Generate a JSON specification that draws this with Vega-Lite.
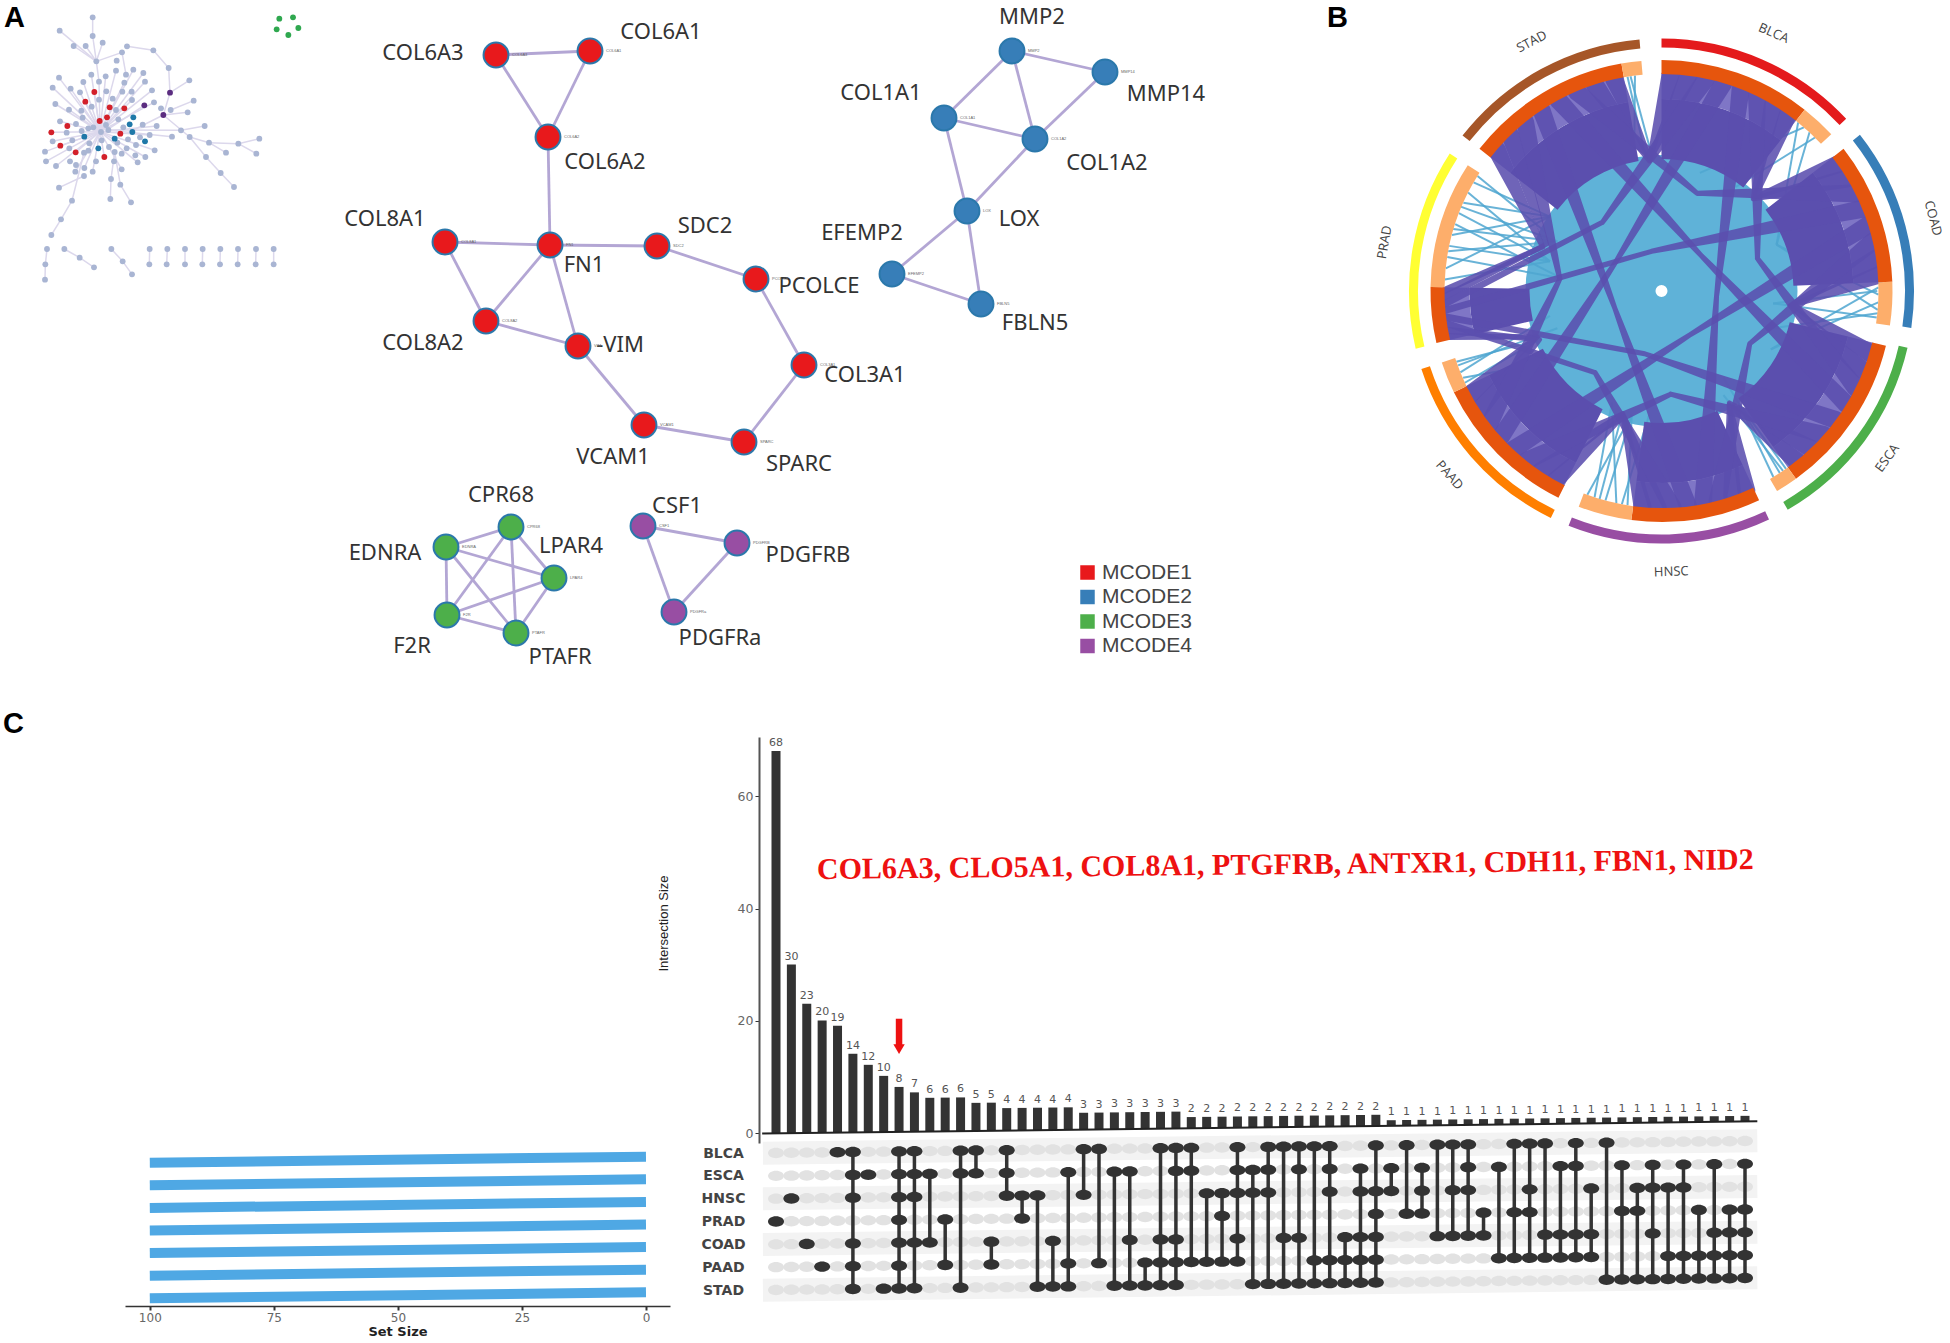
{"$schema":"https://vega.github.io/schema/vega-lite/v6.json","width":1950,"height":1343,"autosize":{"type":"fit","contains":"padding"},"padding":0,"background":"white","config":{"view":{"stroke":null}},
"datasets":{
"genes":[
{"gene":"COL6A3","label":"COL6A3","module":"MCODE1","x":496,"y":55,"lx":423,"ly":53},
{"gene":"COL6A1","label":"COL6A1","module":"MCODE1","x":590,"y":51,"lx":661,"ly":32},
{"gene":"COL6A2","label":"COL6A2","module":"MCODE1","x":548,"y":137,"lx":605,"ly":162},
{"gene":"COL8A1","label":"COL8A1","module":"MCODE1","x":445,"y":242,"lx":385,"ly":219},
{"gene":"FN1","label":"FN1","module":"MCODE1","x":550,"y":245,"lx":584,"ly":265},
{"gene":"SDC2","label":"SDC2","module":"MCODE1","x":657,"y":246,"lx":705,"ly":226},
{"gene":"PCOLCE","label":"PCOLCE","module":"MCODE1","x":756,"y":279,"lx":819,"ly":286},
{"gene":"COL8A2","label":"COL8A2","module":"MCODE1","x":486,"y":321,"lx":423,"ly":343},
{"gene":"VIM","label":"-VIM","module":"MCODE1","x":578,"y":346,"lx":620,"ly":345},
{"gene":"COL3A1","label":"COL3A1","module":"MCODE1","x":804,"y":365,"lx":865,"ly":375},
{"gene":"VCAM1","label":"VCAM1","module":"MCODE1","x":644,"y":425,"lx":613,"ly":457},
{"gene":"SPARC","label":"SPARC","module":"MCODE1","x":744,"y":442,"lx":799,"ly":464},
{"gene":"MMP2","label":"MMP2","module":"MCODE2","x":1012,"y":51,"lx":1032,"ly":17},
{"gene":"MMP14","label":"MMP14","module":"MCODE2","x":1105,"y":72,"lx":1166,"ly":94},
{"gene":"COL1A1","label":"COL1A1","module":"MCODE2","x":944,"y":118,"lx":881,"ly":93},
{"gene":"COL1A2","label":"COL1A2","module":"MCODE2","x":1035,"y":139,"lx":1107,"ly":163},
{"gene":"LOX","label":"LOX","module":"MCODE2","x":967,"y":211,"lx":1019,"ly":219},
{"gene":"EFEMP2","label":"EFEMP2","module":"MCODE2","x":892,"y":274,"lx":862,"ly":233},
{"gene":"FBLN5","label":"FBLN5","module":"MCODE2","x":981,"y":304,"lx":1035,"ly":323},
{"gene":"CPR68","label":"CPR68","module":"MCODE3","x":511,"y":527,"lx":501,"ly":495},
{"gene":"EDNRA","label":"EDNRA","module":"MCODE3","x":446,"y":547,"lx":385,"ly":553},
{"gene":"LPAR4","label":"LPAR4","module":"MCODE3","x":554,"y":578,"lx":571,"ly":546},
{"gene":"F2R","label":"F2R","module":"MCODE3","x":447,"y":615,"lx":412,"ly":646},
{"gene":"PTAFR","label":"PTAFR","module":"MCODE3","x":516,"y":633,"lx":560,"ly":657},
{"gene":"CSF1","label":"CSF1","module":"MCODE4","x":643,"y":526,"lx":677,"ly":506},
{"gene":"PDGFRB","label":"PDGFRB","module":"MCODE4","x":737,"y":543,"lx":808,"ly":555},
{"gene":"PDGFRa","label":"PDGFRa","module":"MCODE4","x":674,"y":612,"lx":720,"ly":638}
],
"links":[
{"a":"COL6A3","b":"COL6A1"},{"a":"COL6A3","b":"COL6A2"},{"a":"COL6A1","b":"COL6A2"},{"a":"COL6A2","b":"FN1"},{"a":"COL8A1","b":"FN1"},{"a":"FN1","b":"SDC2"},{"a":"SDC2","b":"PCOLCE"},{"a":"COL8A1","b":"COL8A2"},{"a":"FN1","b":"COL8A2"},{"a":"FN1","b":"VIM"},{"a":"COL8A2","b":"VIM"},{"a":"VIM","b":"VCAM1"},{"a":"VCAM1","b":"SPARC"},{"a":"SPARC","b":"COL3A1"},{"a":"COL3A1","b":"PCOLCE"},
{"a":"MMP2","b":"MMP14"},{"a":"MMP2","b":"COL1A1"},{"a":"MMP2","b":"COL1A2"},{"a":"MMP14","b":"COL1A2"},{"a":"COL1A1","b":"COL1A2"},{"a":"COL1A1","b":"LOX"},{"a":"COL1A2","b":"LOX"},{"a":"LOX","b":"EFEMP2"},{"a":"LOX","b":"FBLN5"},{"a":"EFEMP2","b":"FBLN5"},
{"a":"EDNRA","b":"CPR68"},{"a":"EDNRA","b":"LPAR4"},{"a":"EDNRA","b":"F2R"},{"a":"EDNRA","b":"PTAFR"},{"a":"CPR68","b":"LPAR4"},{"a":"CPR68","b":"F2R"},{"a":"CPR68","b":"PTAFR"},{"a":"LPAR4","b":"F2R"},{"a":"LPAR4","b":"PTAFR"},{"a":"F2R","b":"PTAFR"},
{"a":"CSF1","b":"PDGFRB"},{"a":"CSF1","b":"PDGFRa"},{"a":"PDGFRB","b":"PDGFRa"}
],
"overviewEdges":[
{"x":278,"y":52,"x2":278,"y2":108},{"x":278,"y":108,"x2":289,"y2":184},{"x":179,"y":92,"x2":289,"y2":184},{"x":221,"y":138,"x2":289,"y2":184},{"x":257,"y":138,"x2":289,"y2":184},{"x":308,"y":128,"x2":289,"y2":184},{"x":366,"y":157,"x2":289,"y2":184},{"x":381,"y":139,"x2":460,"y2":151},{"x":460,"y":151,"x2":506,"y2":204},{"x":506,"y":204,"x2":510,"y2":278},{"x":510,"y":278,"x2":490,"y2":345},{"x":568,"y":241,"x2":510,"y2":278},{"x":366,"y":157,"x2":378,"y2":224},{"x":289,"y":184,"x2":297,"y2":245},{"x":297,"y":245,"x2":300,"y2":390},{"x":490,"y":345,"x2":380,"y2":400},{"x":433,"y":316,"x2":320,"y2":390},{"x":581,"y":302,"x2":512,"y2":330},{"x":563,"y":337,"x2":490,"y2":345},{"x":490,"y":345,"x2":569,"y2":411},{"x":569,"y":411,"x2":627,"y2":428},{"x":627,"y":428,"x2":715,"y2":431},{"x":715,"y":431,"x2":778,"y2":416},{"x":715,"y":431,"x2":769,"y2":461},{"x":627,"y":428,"x2":678,"y2":458},{"x":569,"y":411,"x2":618,"y2":471},{"x":618,"y":471,"x2":662,"y2":519},{"x":662,"y":519,"x2":702,"y2":561},{"x":543,"y":391,"x2":614,"y2":378},{"x":320,"y":390,"x2":543,"y2":391},{"x":320,"y":390,"x2":516,"y2":410},{"x":252,"y":458,"x2":216,"y2":602},{"x":216,"y":602,"x2":183,"y2":658},{"x":183,"y":658,"x2":154,"y2":705},{"x":252,"y":528,"x2":177,"y2":563},{"x":333,"y":537,"x2":331,"y2":597},{"x":344,"y":456,"x2":333,"y2":537},{"x":344,"y":456,"x2":361,"y2":554},{"x":361,"y":554,"x2":393,"y2":607},{"x":141,"y":747,"x2":136,"y2":793},{"x":136,"y":793,"x2":135,"y2":839},{"x":193,"y":747,"x2":239,"y2":773},{"x":239,"y":773,"x2":282,"y2":802},{"x":334,"y":747,"x2":368,"y2":784},{"x":368,"y":784,"x2":396,"y2":823},{"x":449,"y":747,"x2":448,"y2":793},{"x":502,"y":747,"x2":500,"y2":793},{"x":555,"y":747,"x2":555,"y2":793},{"x":608,"y":747,"x2":607,"y2":793},{"x":661,"y":747,"x2":660,"y2":793},{"x":714,"y":747,"x2":713,"y2":793},{"x":768,"y":747,"x2":767,"y2":793},{"x":821,"y":747,"x2":821,"y2":793},
{"x":300,"y":395,"x2":158,"y2":263},{"x":300,"y":395,"x2":177,"y2":233},{"x":300,"y":395,"x2":250,"y2":246},{"x":300,"y":395,"x2":212,"y2":266},{"x":300,"y":395,"x2":240,"y2":277},{"x":300,"y":395,"x2":166,"y2":312},{"x":300,"y":395,"x2":207,"y2":329},{"x":300,"y":395,"x2":180,"y2":364},{"x":300,"y":395,"x2":154,"y2":397},{"x":300,"y":395,"x2":158,"y2":424},{"x":300,"y":395,"x2":135,"y2":455},{"x":300,"y":395,"x2":138,"y2":484},{"x":300,"y":395,"x2":168,"y2":498},{"x":300,"y":395,"x2":226,"y2":515},{"x":300,"y":395,"x2":278,"y2":515},{"x":300,"y":395,"x2":253,"y2":504},{"x":300,"y":395,"x2":365,"y2":508},{"x":300,"y":395,"x2":413,"y2":487},{"x":300,"y":395,"x2":436,"y2":471},{"x":300,"y":395,"x2":464,"y2":451},{"x":300,"y":395,"x2":449,"y2":405},{"x":300,"y":395,"x2":470,"y2":378},{"x":300,"y":395,"x2":456,"y2":271},{"x":300,"y":395,"x2":435,"y2":245},{"x":300,"y":395,"x2":430,"y2":219},{"x":300,"y":395,"x2":400,"y2":209},{"x":300,"y":395,"x2":348,"y2":212},{"x":300,"y":395,"x2":317,"y2":229},{"x":300,"y":395,"x2":274,"y2":224},{"x":300,"y":395,"x2":373,"y2":248},{"x":300,"y":395,"x2":396,"y2":300},{"x":300,"y":395,"x2":462,"y2":307},{"x":300,"y":395,"x2":283,"y2":276},{"x":300,"y":395,"x2":256,"y2":305},{"x":300,"y":395,"x2":181,"y2":437},{"x":300,"y":395,"x2":227,"y2":457},{"x":300,"y":395,"x2":313,"y2":471}
],
"overviewNodes":[
{"x":278,"y":52,"m":"n"},{"x":179,"y":92,"m":"n"},{"x":278,"y":108,"m":"n"},{"x":221,"y":138,"m":"n"},{"x":257,"y":138,"m":"n"},{"x":308,"y":128,"m":"n"},{"x":381,"y":139,"m":"n"},{"x":366,"y":157,"m":"n"},{"x":460,"y":151,"m":"n"},{"x":289,"y":184,"m":"n"},{"x":350,"y":182,"m":"n"},{"x":506,"y":204,"m":"n"},{"x":568,"y":241,"m":"n"},{"x":348,"y":212,"m":"n"},{"x":400,"y":209,"m":"n"},{"x":430,"y":219,"m":"n"},{"x":274,"y":224,"m":"n"},{"x":378,"y":224,"m":"n"},{"x":317,"y":229,"m":"n"},{"x":177,"y":233,"m":"n"},{"x":250,"y":246,"m":"n"},{"x":297,"y":245,"m":"n"},{"x":373,"y":248,"m":"n"},{"x":435,"y":245,"m":"n"},{"x":158,"y":263,"m":"n"},{"x":212,"y":266,"m":"n"},{"x":240,"y":277,"m":"n"},{"x":319,"y":274,"m":"n"},{"x":367,"y":275,"m":"n"},{"x":395,"y":275,"m":"n"},{"x":456,"y":271,"m":"n"},{"x":297,"y":299,"m":"n"},{"x":338,"y":296,"m":"n"},{"x":396,"y":300,"m":"n"},{"x":462,"y":307,"m":"n"},{"x":581,"y":302,"m":"n"},{"x":166,"y":312,"m":"n"},{"x":207,"y":329,"m":"n"},{"x":244,"y":332,"m":"n"},{"x":275,"y":320,"m":"n"},{"x":348,"y":330,"m":"n"},{"x":483,"y":325,"m":"n"},{"x":512,"y":330,"m":"n"},{"x":563,"y":337,"m":"n"},{"x":248,"y":353,"m":"n"},{"x":355,"y":358,"m":"n"},{"x":180,"y":364,"m":"n"},{"x":228,"y":372,"m":"n"},{"x":428,"y":374,"m":"n"},{"x":470,"y":378,"m":"n"},{"x":614,"y":378,"m":"n"},{"x":543,"y":391,"m":"n"},{"x":200,"y":398,"m":"n"},{"x":245,"y":393,"m":"n"},{"x":265,"y":385,"m":"n"},{"x":280,"y":382,"m":"n"},{"x":303,"y":396,"m":"n"},{"x":318,"y":375,"m":"n"},{"x":325,"y":390,"m":"n"},{"x":370,"y":382,"m":"n"},{"x":449,"y":405,"m":"n"},{"x":516,"y":410,"m":"n"},{"x":569,"y":411,"m":"n"},{"x":158,"y":424,"m":"n"},{"x":217,"y":421,"m":"n"},{"x":268,"y":430,"m":"n"},{"x":305,"y":421,"m":"n"},{"x":384,"y":418,"m":"n"},{"x":420,"y":412,"m":"n"},{"x":135,"y":455,"m":"n"},{"x":208,"y":445,"m":"n"},{"x":252,"y":458,"m":"n"},{"x":265,"y":452,"m":"n"},{"x":327,"y":441,"m":"n"},{"x":352,"y":428,"m":"n"},{"x":380,"y":445,"m":"n"},{"x":408,"y":435,"m":"n"},{"x":464,"y":451,"m":"n"},{"x":627,"y":428,"m":"n"},{"x":715,"y":431,"m":"n"},{"x":778,"y":416,"m":"n"},{"x":678,"y":458,"m":"n"},{"x":769,"y":461,"m":"n"},{"x":618,"y":471,"m":"n"},{"x":138,"y":484,"m":"n"},{"x":168,"y":498,"m":"n"},{"x":210,"y":484,"m":"n"},{"x":228,"y":495,"m":"n"},{"x":288,"y":484,"m":"n"},{"x":344,"y":456,"m":"n"},{"x":365,"y":461,"m":"n"},{"x":406,"y":466,"m":"n"},{"x":436,"y":471,"m":"n"},{"x":342,"y":484,"m":"n"},{"x":413,"y":487,"m":"n"},{"x":253,"y":504,"m":"n"},{"x":226,"y":515,"m":"n"},{"x":278,"y":515,"m":"n"},{"x":365,"y":508,"m":"n"},{"x":662,"y":519,"m":"n"},{"x":252,"y":528,"m":"n"},{"x":333,"y":537,"m":"n"},{"x":361,"y":554,"m":"n"},{"x":177,"y":563,"m":"n"},{"x":702,"y":561,"m":"n"},{"x":216,"y":602,"m":"n"},{"x":331,"y":597,"m":"n"},{"x":393,"y":607,"m":"n"},{"x":183,"y":658,"m":"n"},{"x":154,"y":705,"m":"n"},
{"x":141,"y":747,"m":"n"},{"x":136,"y":793,"m":"n"},{"x":135,"y":839,"m":"n"},{"x":193,"y":747,"m":"n"},{"x":239,"y":773,"m":"n"},{"x":282,"y":802,"m":"n"},{"x":334,"y":747,"m":"n"},{"x":368,"y":784,"m":"n"},{"x":396,"y":823,"m":"n"},{"x":449,"y":747,"m":"n"},{"x":448,"y":793,"m":"n"},{"x":502,"y":747,"m":"n"},{"x":500,"y":793,"m":"n"},{"x":555,"y":747,"m":"n"},{"x":555,"y":793,"m":"n"},{"x":608,"y":747,"m":"n"},{"x":607,"y":793,"m":"n"},{"x":661,"y":747,"m":"n"},{"x":660,"y":793,"m":"n"},{"x":714,"y":747,"m":"n"},{"x":713,"y":793,"m":"n"},{"x":768,"y":747,"m":"n"},{"x":767,"y":793,"m":"n"},{"x":821,"y":747,"m":"n"},{"x":821,"y":793,"m":"n"},
{"x":283,"y":276,"m":"r"},{"x":256,"y":305,"m":"r"},{"x":329,"y":322,"m":"r"},{"x":373,"y":325,"m":"r"},{"x":321,"y":352,"m":"r"},{"x":299,"y":363,"m":"r"},{"x":202,"y":378,"m":"r"},{"x":154,"y":397,"m":"r"},{"x":361,"y":401,"m":"r"},{"x":181,"y":437,"m":"r"},{"x":227,"y":457,"m":"r"},{"x":313,"y":471,"m":"r"},
{"x":400,"y":352,"m":"b"},{"x":389,"y":373,"m":"b"},{"x":397,"y":396,"m":"b"},{"x":253,"y":410,"m":"b"},{"x":344,"y":416,"m":"b"},{"x":435,"y":424,"m":"b"},{"x":295,"y":445,"m":"b"},
{"x":510,"y":278,"m":"p"},{"x":433,"y":316,"m":"p"},{"x":490,"y":345,"m":"p"},
{"x":838,"y":56,"m":"g"},{"x":879,"y":52,"m":"g"},{"x":895,"y":84,"m":"g"},{"x":865,"y":105,"m":"g"},{"x":830,"y":88,"m":"g"}
],
"sectors":[
{"name":"BLCA","a0":0,"a1":47,"mid":23.5,"tilt":23.5},{"name":"COAD","a0":51.8,"a1":98.4,"mid":75,"tilt":75},{"name":"ESCA","a0":103,"a1":150,"mid":126.5,"tilt":-53.5},{"name":"HNSC","a0":154.8,"a1":201.6,"mid":178,"tilt":-2},{"name":"PAAD","a0":206,"a1":252,"mid":229,"tilt":49},{"name":"PRAD","a0":256.8,"a1":303,"mid":280,"tilt":-80},{"name":"STAD","a0":308,"a1":355,"mid":332.5,"tilt":-27.5}
],
"inner":[
{"part":"shared","a0":0,"a1":38.3},{"part":"unique","a0":38.3,"a1":47.3},{"part":"shared","a0":52,"a1":87.7},{"part":"unique","a0":87.7,"a1":98.6},{"part":"shared","a0":103.7,"a1":144.4},{"part":"unique","a0":144.4,"a1":150},{"part":"shared","a0":155,"a1":187.5},{"part":"unique","a0":187.5,"a1":201},{"part":"shared","a0":206.5,"a1":244},{"part":"unique","a0":244,"a1":252},{"part":"shared","a0":257,"a1":271},{"part":"unique","a0":271,"a1":303},{"part":"shared","a0":308,"a1":350},{"part":"unique","a0":350,"a1":355}
],
"uniqueLinks":[
{"x":0.551,"y":0.68,"x2":0.464,"y2":0.187},{"x":0.574,"y":0.66,"x2":0.155,"y2":0.476},{"x":0.597,"y":0.64,"x2":0.464,"y2":0.187},{"x":0.619,"y":0.619,"x2":0.3,"y2":0.42},
{"x":0.875,"y":0.015,"x2":0.441,"y2":-0.235},{"x":0.875,"y":-0.015,"x2":0.464,"y2":0.187},{"x":0.874,"y":-0.046,"x2":0.441,"y2":-0.235},{"x":0.872,"y":-0.076,"x2":0.464,"y2":0.187},{"x":0.868,"y":-0.107,"x2":0.45,"y2":-0.05},{"x":0.87,"y":0.0,"x2":0.45,"y2":-0.05},{"x":0.872,"y":-0.09,"x2":0.45,"y2":-0.15},
{"x":0.502,"y":-0.717,"x2":0.31,"y2":-0.45},{"x":0.477,"y":-0.734,"x2":0.25,"y2":-0.35},{"x":0.451,"y":-0.75,"x2":0.31,"y2":-0.45},{"x":0.49,"y":-0.725,"x2":0.25,"y2":-0.42},
{"x":-0.137,"y":-0.864,"x2":-0.12,"y2":-0.5},{"x":-0.182,"y":-0.856,"x2":-0.2,"y2":-0.45},{"x":-0.226,"y":-0.845,"x2":-0.12,"y2":-0.5},{"x":-0.27,"y":-0.832,"x2":-0.2,"y2":-0.45},{"x":-0.299,"y":-0.822,"x2":-0.12,"y2":-0.5},{"x":-0.16,"y":-0.86,"x2":-0.05,"y2":-0.5},{"x":-0.25,"y":-0.84,"x2":-0.16,"y2":-0.5},
{"x":-0.793,"y":-0.37,"x2":-0.5,"y2":-0.2},{"x":-0.811,"y":-0.328,"x2":-0.45,"y2":-0.1},{"x":-0.827,"y":-0.285,"x2":-0.5,"y2":-0.2},{"x":-0.8,"y":-0.35,"x2":-0.42,"y2":-0.28},{"x":-0.82,"y":-0.3,"x2":-0.42,"y2":-0.15},
{"x":-0.874,"y":0.046,"x2":-0.45,"y2":0.12},{"x":-0.87,"y":0.091,"x2":-0.45,"y2":0.3},{"x":-0.864,"y":0.137,"x2":-0.4,"y2":0.05},{"x":-0.856,"y":0.182,"x2":-0.45,"y2":0.12},{"x":-0.845,"y":0.226,"x2":-0.45,"y2":0.3},{"x":-0.832,"y":0.27,"x2":-0.4,"y2":0.05},{"x":-0.817,"y":0.314,"x2":-0.45,"y2":0.12},{"x":-0.799,"y":0.356,"x2":-0.45,"y2":0.3},{"x":-0.78,"y":0.397,"x2":-0.45,"y2":0.12},{"x":-0.758,"y":0.438,"x2":-0.45,"y2":0.3},{"x":-0.742,"y":0.464,"x2":-0.47,"y2":0.24},{"x":-0.86,"y":0.16,"x2":-0.42,"y2":0.2},{"x":-0.84,"y":0.25,"x2":-0.42,"y2":0.2},{"x":-0.81,"y":0.34,"x2":-0.42,"y2":0.2},
{"x":-0.137,"y":0.864,"x2":-0.07,"y2":0.57},{"x":-0.107,"y":0.869,"x2":-0.11,"y2":0.53},{"x":-0.125,"y":0.866,"x2":-0.04,"y2":0.55},{"x":-0.2,"y":0.85,"x2":-0.14,"y2":0.55}
],
"sharedLinks":[
{"k":1,"o":0,"x":0.509,"y":0.711,"w":18},{"k":1,"o":1,"x":0.376,"y":0.377,"w":5},{"k":1,"o":2,"x":0.711,"y":0.511,"w":18},
{"k":2,"o":0,"x":0.449,"y":0.751,"w":18},{"k":2,"o":1,"x":0.37,"y":0.372,"w":5},{"k":2,"o":2,"x":0.748,"y":0.453,"w":18},
{"k":3,"o":0,"x":0.873,"y":0.064,"w":18},{"k":3,"o":1,"x":0.527,"y":-0.057,"w":5},{"k":3,"o":2,"x":0.839,"y":-0.249,"w":18},
{"k":4,"o":0,"x":0.865,"y":0.132,"w":18},{"k":4,"o":1,"x":0.519,"y":-0.058,"w":5},{"k":4,"o":2,"x":0.814,"y":-0.321,"w":18},
{"k":5,"o":0,"x":0.545,"y":-0.685,"w":18},{"k":5,"o":1,"x":0.273,"y":-0.459,"w":5},{"k":5,"o":2,"x":0.342,"y":-0.805,"w":18},
{"k":6,"o":0,"x":0.602,"y":-0.635,"w":18},{"k":6,"o":1,"x":0.274,"y":-0.452,"w":5},{"k":6,"o":2,"x":0.285,"y":-0.827,"w":18},
{"k":7,"o":0,"x":-0.076,"y":-0.872,"w":18},{"k":7,"o":1,"x":-0.156,"y":-0.505,"w":5},{"k":7,"o":2,"x":-0.428,"y":-0.763,"w":18},
{"k":8,"o":0,"x":-0.015,"y":-0.875,"w":18},{"k":8,"o":1,"x":-0.156,"y":-0.495,"w":5},{"k":8,"o":2,"x":-0.488,"y":-0.726,"w":18},
{"k":9,"o":0,"x":-0.77,"y":-0.416,"w":18},{"k":9,"o":1,"x":-0.501,"y":-0.185,"w":5},{"k":9,"o":2,"x":-0.856,"y":-0.183,"w":7},
{"k":10,"o":0,"x":-0.734,"y":-0.477,"w":18},{"k":10,"o":1,"x":-0.492,"y":-0.196,"w":5},{"k":10,"o":2,"x":-0.861,"y":-0.158,"w":7},
{"k":11,"o":0,"x":-0.875,"y":0.002,"w":7},{"k":11,"o":1,"x":-0.479,"y":0.178,"w":5},{"k":11,"o":2,"x":-0.664,"y":0.569,"w":18},
{"k":12,"o":0,"x":-0.875,"y":-0.024,"w":7},{"k":12,"o":1,"x":-0.464,"y":0.189,"w":5},{"k":12,"o":2,"x":-0.609,"y":0.628,"w":18},
{"k":13,"o":0,"x":-0.191,"y":0.854,"w":18},{"k":13,"o":1,"x":-0.048,"y":0.532,"w":5},{"k":13,"o":2,"x":0.037,"y":0.874,"w":18},
{"k":14,"o":0,"x":-0.269,"y":0.833,"w":18},{"k":14,"o":1,"x":-0.049,"y":0.525,"w":5},{"k":14,"o":2,"x":0.108,"y":0.868,"w":18},
{"k":15,"o":0,"x":0.385,"y":0.786,"w":18},{"k":15,"o":1,"x":0.387,"y":0.131,"w":5},{"k":15,"o":2,"x":0.783,"y":-0.39,"w":18},
{"k":16,"o":0,"x":0.852,"y":0.2,"w":18},{"k":16,"o":1,"x":0.356,"y":-0.212,"w":5},{"k":16,"o":2,"x":0.226,"y":-0.845,"w":18},
{"k":17,"o":0,"x":0.655,"y":-0.58,"w":18},{"k":17,"o":1,"x":0.037,"y":-0.416,"w":5},{"k":17,"o":2,"x":-0.545,"y":-0.685,"w":18},
{"k":18,"o":0,"x":0.046,"y":-0.874,"w":18},{"k":18,"o":1,"x":-0.268,"y":-0.329,"w":5},{"k":18,"o":2,"x":-0.865,"y":-0.131,"w":7},
{"k":19,"o":0,"x":-0.693,"y":-0.534,"w":18},{"k":19,"o":1,"x":-0.41,"y":0.049,"w":5},{"k":19,"o":2,"x":-0.55,"y":0.681,"w":18},
{"k":20,"o":0,"x":-0.873,"y":-0.052,"w":7},{"k":20,"o":1,"x":-0.238,"y":0.277,"w":5},{"k":20,"o":2,"x":0.18,"y":0.856,"w":18},
{"k":21,"o":0,"x":-0.343,"y":0.805,"w":18},{"k":21,"o":1,"x":0.144,"y":0.394,"w":5},{"k":21,"o":2,"x":0.782,"y":0.393,"w":18},
{"k":22,"o":0,"x":0.319,"y":0.815,"w":18},{"k":22,"o":1,"x":0.222,"y":-0.02,"w":5},{"k":22,"o":2,"x":0.167,"y":-0.859,"w":18},
{"k":23,"o":0,"x":0.834,"y":0.266,"w":18},{"k":23,"o":1,"x":0.113,"y":-0.178,"w":5},{"k":23,"o":2,"x":-0.598,"y":-0.639,"w":18},
{"k":24,"o":0,"x":0.703,"y":-0.52,"w":18},{"k":24,"o":1,"x":-0.068,"y":-0.253,"w":5},{"k":24,"o":2,"x":-0.869,"y":-0.105,"w":7},
{"k":25,"o":0,"x":0.107,"y":-0.868,"w":18},{"k":25,"o":1,"x":-0.188,"y":-0.07,"w":5},{"k":25,"o":2,"x":-0.484,"y":0.729,"w":18},
{"k":26,"o":0,"x":-0.648,"y":-0.588,"w":18},{"k":26,"o":1,"x":-0.185,"y":0.116,"w":5},{"k":26,"o":2,"x":0.25,"y":0.839,"w":18},
{"k":27,"o":0,"x":-0.872,"y":-0.078,"w":7},{"k":27,"o":1,"x":-0.04,"y":0.16,"w":5},{"k":27,"o":2,"x":0.81,"y":0.331,"w":18},
{"k":28,"o":0,"x":-0.416,"y":0.77,"w":18},{"k":28,"o":1,"x":0.156,"y":0.147,"w":5},{"k":28,"o":2,"x":0.746,"y":-0.457,"w":18}
],
"intersections":[
{"col":1,"size":68,"PRAD":1},{"col":2,"size":30,"HNSC":1},{"col":3,"size":23,"COAD":1},{"col":4,"size":20,"PAAD":1},{"col":5,"size":19,"BLCA":1},
{"col":6,"size":14,"BLCA":1,"ESCA":1,"HNSC":1,"COAD":1,"PAAD":1,"STAD":1},{"col":7,"size":12,"ESCA":1},{"col":8,"size":10,"STAD":1},
{"col":9,"size":8,"BLCA":1,"ESCA":1,"HNSC":1,"PRAD":1,"COAD":1,"PAAD":1,"STAD":1},{"col":10,"size":7,"BLCA":1,"ESCA":1,"HNSC":1,"COAD":1,"STAD":1},
{"col":11,"size":6,"ESCA":1,"COAD":1},{"col":12,"size":6,"PRAD":1,"PAAD":1},{"col":13,"size":6,"BLCA":1,"ESCA":1,"STAD":1},{"col":14,"size":5,"BLCA":1,"ESCA":1},{"col":15,"size":5,"COAD":1,"PAAD":1},
{"col":16,"size":4,"BLCA":1,"ESCA":1,"HNSC":1},{"col":17,"size":4,"HNSC":1,"PRAD":1},{"col":18,"size":4,"HNSC":1,"STAD":1},{"col":19,"size":4,"COAD":1,"STAD":1},{"col":20,"size":4,"ESCA":1,"PAAD":1,"STAD":1},
{"col":21,"size":3,"BLCA":1,"HNSC":1},{"col":22,"size":3,"BLCA":1,"PAAD":1},{"col":23,"size":3,"ESCA":1,"STAD":1},{"col":24,"size":3,"ESCA":1,"COAD":1,"STAD":1},{"col":25,"size":3,"PAAD":1,"STAD":1},{"col":26,"size":3,"BLCA":1,"COAD":1,"PAAD":1,"STAD":1},{"col":27,"size":3,"BLCA":1,"ESCA":1,"COAD":1,"PAAD":1,"STAD":1},
{"col":28,"size":2,"BLCA":1,"ESCA":1,"PAAD":1},{"col":29,"size":2,"HNSC":1,"PAAD":1},{"col":30,"size":2,"HNSC":1,"PRAD":1,"PAAD":1},{"col":31,"size":2,"BLCA":1,"ESCA":1,"HNSC":1,"COAD":1,"PAAD":1},{"col":32,"size":2,"ESCA":1,"HNSC":1,"STAD":1},{"col":33,"size":2,"BLCA":1,"ESCA":1,"HNSC":1,"STAD":1},{"col":34,"size":2,"BLCA":1,"COAD":1,"STAD":1},{"col":35,"size":2,"BLCA":1,"ESCA":1,"COAD":1,"STAD":1},{"col":36,"size":2,"BLCA":1,"PAAD":1,"STAD":1},{"col":37,"size":2,"BLCA":1,"ESCA":1,"HNSC":1,"PAAD":1,"STAD":1},{"col":38,"size":2,"COAD":1,"PAAD":1,"STAD":1},{"col":39,"size":2,"ESCA":1,"HNSC":1,"COAD":1,"PAAD":1,"STAD":1},{"col":40,"size":2,"BLCA":1,"HNSC":1,"PRAD":1,"COAD":1,"PAAD":1,"STAD":1},
{"col":41,"size":1,"ESCA":1,"HNSC":1},{"col":42,"size":1,"BLCA":1,"PRAD":1},{"col":43,"size":1,"ESCA":1,"HNSC":1,"PRAD":1},{"col":44,"size":1,"BLCA":1,"COAD":1},{"col":45,"size":1,"BLCA":1,"HNSC":1,"COAD":1},{"col":46,"size":1,"BLCA":1,"ESCA":1,"HNSC":1,"COAD":1},{"col":47,"size":1,"PRAD":1,"COAD":1},{"col":48,"size":1,"ESCA":1,"PAAD":1},{"col":49,"size":1,"BLCA":1,"PRAD":1,"PAAD":1},{"col":50,"size":1,"BLCA":1,"HNSC":1,"PRAD":1,"PAAD":1},{"col":51,"size":1,"BLCA":1,"COAD":1,"PAAD":1},{"col":52,"size":1,"ESCA":1,"COAD":1,"PAAD":1},{"col":53,"size":1,"BLCA":1,"ESCA":1,"COAD":1,"PAAD":1},{"col":54,"size":1,"HNSC":1,"COAD":1,"PAAD":1},{"col":55,"size":1,"BLCA":1,"STAD":1},{"col":56,"size":1,"ESCA":1,"PRAD":1,"STAD":1},{"col":57,"size":1,"HNSC":1,"PRAD":1,"STAD":1},{"col":58,"size":1,"ESCA":1,"HNSC":1,"COAD":1,"STAD":1},{"col":59,"size":1,"HNSC":1,"PAAD":1,"STAD":1},{"col":60,"size":1,"ESCA":1,"HNSC":1,"PAAD":1,"STAD":1},{"col":61,"size":1,"PRAD":1,"PAAD":1,"STAD":1},{"col":62,"size":1,"ESCA":1,"COAD":1,"PAAD":1,"STAD":1},{"col":63,"size":1,"PRAD":1,"COAD":1,"PAAD":1,"STAD":1},{"col":64,"size":1,"ESCA":1,"PRAD":1,"COAD":1,"PAAD":1,"STAD":1}
]
},
"resolve":{"scale":{"x":"independent","y":"independent","color":"independent","size":"independent","yOffset":"independent","theta":"independent"},"axis":{"x":"independent","y":"independent"}},
"layer":[
{"layer":[
{"data":{"values":[{"t":"A","x":4,"y":18},{"t":"B","x":1327,"y":18},{"t":"C","x":3,"y":724}]},
 "mark":{"type":"text","align":"left","baseline":"middle","font":"Liberation Sans","fontWeight":"bold","fontSize":29,"color":"black"},
 "encoding":{"x":{"field":"x","type":"quantitative","axis":null,"scale":{"domain":[0,1950],"range":[0,1950],"nice":false}},"y":{"field":"y","type":"quantitative","axis":null,"scale":{"domain":[0,1343],"range":[0,1343],"nice":false}},"text":{"field":"t"}}},
{"data":{"values":[{"t":"COL6A3, CLO5A1, COL8A1, PTGFRB, ANTXR1, CDH11, FBN1, NID2","x":817,"y":870}]},
 "mark":{"type":"text","align":"left","baseline":"middle","font":"Liberation Serif","fontWeight":"bold","fontSize":30,"color":"#ee1111","angle":-0.6},
 "encoding":{"x":{"field":"x","type":"quantitative","axis":null},"y":{"field":"y","type":"quantitative","axis":null},"text":{"field":"t"}}}
]},
{"layer":[
{"data":{"name":"overviewEdges"},"mark":{"type":"rule","color":"#dcd8ec","strokeWidth":1.5},
 "encoding":{"x":{"field":"x","type":"quantitative","axis":null,"scale":{"domain":[0,960],"range":[0,320],"nice":false}},"y":{"field":"y","type":"quantitative","axis":null,"scale":{"domain":[0,900],"range":[0,300],"nice":false}},"x2":{"field":"x2"},"y2":{"field":"y2"}}},
{"data":{"name":"overviewNodes"},"mark":{"type":"point","filled":true,"opacity":1,"size":34},
 "encoding":{"x":{"field":"x","type":"quantitative","axis":null},"y":{"field":"y","type":"quantitative","axis":null},"color":{"field":"m","type":"nominal","legend":null,"scale":{"domain":["n","r","b","p","g"],"range":["#a9b5d3","#d3202a","#1f78a8","#5b2d80","#2fa84f"]}}}}
]},
{"layer":[
{"data":{"name":"links"},"transform":[{"lookup":"a","from":{"data":{"name":"genes"},"key":"gene","fields":["x","y"]},"as":["ax","ay"]},{"lookup":"b","from":{"data":{"name":"genes"},"key":"gene","fields":["x","y"]},"as":["bx","by"]}],
 "mark":{"type":"rule","color":"#b3a6d4","strokeWidth":2.8},
 "encoding":{"x":{"field":"ax","type":"quantitative","axis":null,"scale":{"domain":[0,1950],"range":[0,1950],"nice":false}},"y":{"field":"ay","type":"quantitative","axis":null,"scale":{"domain":[0,1343],"range":[0,1343],"nice":false}},"x2":{"field":"bx"},"y2":{"field":"by"}}},
{"data":{"name":"genes"},"mark":{"type":"point","filled":true,"opacity":1,"size":620,"stroke":"#2b78ab","strokeWidth":2},
 "encoding":{"x":{"field":"x","type":"quantitative","axis":null},"y":{"field":"y","type":"quantitative","axis":null},"color":{"field":"module","type":"nominal","scale":{"domain":["MCODE1","MCODE2","MCODE3","MCODE4"],"range":["#e8191c","#377eb8","#4daf4a","#984ea3"]},"legend":{"orient":"none","legendX":1077,"legendY":562,"title":null,"symbolType":"square","symbolSize":210,"symbolStrokeWidth":0,"symbolOpacity":1,"labelFont":"Liberation Sans","labelFontSize":21,"labelColor":"#444444","rowPadding":2.5,"labelOffset":4}}}},
{"data":{"name":"genes"},"mark":{"type":"text","align":"center","baseline":"middle","font":"Noto Sans","fontSize":22,"color":"#333333"},
 "encoding":{"x":{"field":"lx","type":"quantitative","axis":null},"y":{"field":"ly","type":"quantitative","axis":null},"text":{"field":"label"}}},
{"data":{"name":"genes"},"mark":{"type":"text","align":"left","baseline":"middle","font":"Liberation Sans","fontSize":4,"dx":16,"color":"#666666"},
 "encoding":{"x":{"field":"x","type":"quantitative","axis":null},"y":{"field":"y","type":"quantitative","axis":null},"text":{"field":"gene"}}}
]},
{"layer":[
{"data":{"values":[{"a0":0,"a1":360}]},"mark":{"type":"arc","radius":136,"radius2":6,"color":"#5fb2d8"},
 "encoding":{"x":{"datum":0,"type":"quantitative","axis":null,"scale":{"domain":[-1,1],"range":[1413.5,1909.5]}},"y":{"datum":0,"type":"quantitative","axis":null,"scale":{"domain":[-1,1],"range":[539,43]}},"theta":{"field":"a0","type":"quantitative","stack":null,"scale":{"domain":[0,360],"range":[0,6.28319]}},"theta2":{"field":"a1"}}},
{"data":{"name":"uniqueLinks"},"mark":{"type":"rule","color":"#4fa6d0","strokeWidth":2,"opacity":0.85},
 "encoding":{"x":{"field":"x","type":"quantitative","axis":null},"y":{"field":"y","type":"quantitative","axis":null},"x2":{"field":"x2"},"y2":{"field":"y2"}}},
{"data":{"name":"inner"},"transform":[{"filter":"datum.part === 'shared'"}],"mark":{"type":"arc","radius":192,"radius2":132,"color":"#5b4fae"},
 "encoding":{"x":{"datum":0,"type":"quantitative","axis":null},"y":{"datum":0,"type":"quantitative","axis":null},"theta":{"field":"a0","type":"quantitative","stack":null},"theta2":{"field":"a1"}}},
{"data":{"name":"inner"},"transform":[{"filter":"datum.part === 'shared'"}],"mark":{"type":"arc","radius":218,"radius2":192,"color":"#7f76c6"},
 "encoding":{"x":{"datum":0,"type":"quantitative","axis":null},"y":{"datum":0,"type":"quantitative","axis":null},"theta":{"field":"a0","type":"quantitative","stack":null},"theta2":{"field":"a1"}}},
{"data":{"name":"sharedLinks"},"mark":{"type":"trail","color":"#5b4fae","opacity":0.88},
 "encoding":{"x":{"field":"x","type":"quantitative","axis":null},"y":{"field":"y","type":"quantitative","axis":null},"detail":{"field":"k"},"order":{"field":"o"},"size":{"field":"w","type":"quantitative","legend":null,"scale":{"domain":[0,18],"range":[0,18]}}}},
{"data":{"name":"inner"},"mark":{"type":"arc","radius":231,"radius2":217},
 "encoding":{"x":{"datum":0,"type":"quantitative","axis":null},"y":{"datum":0,"type":"quantitative","axis":null},"theta":{"field":"a0","type":"quantitative","stack":null},"theta2":{"field":"a1"},"color":{"field":"part","type":"nominal","legend":null,"scale":{"domain":["shared","unique","BLCA","COAD","ESCA","HNSC","PAAD","PRAD","STAD"],"range":["#e6550d","#fdae6b","#e41a1c","#377eb8","#4daf4a","#984ea3","#ff7f00","#ffff33","#a65628"]}}}},
{"data":{"name":"sectors"},"mark":{"type":"arc","radius":252.5,"radius2":243.5},
 "encoding":{"x":{"datum":0,"type":"quantitative","axis":null},"y":{"datum":0,"type":"quantitative","axis":null},"theta":{"field":"a0","type":"quantitative","stack":null},"theta2":{"field":"a1"},"color":{"field":"name","type":"nominal","legend":null}}},
{"data":{"name":"sectors"},"mark":{"type":"text","radius":281,"font":"Open Sans","fontSize":13,"color":"#444444","align":"center","baseline":"middle"},
 "encoding":{"x":{"datum":0,"type":"quantitative","axis":null},"y":{"datum":0,"type":"quantitative","axis":null},"theta":{"field":"mid","type":"quantitative","stack":null},"angle":{"field":"tilt","type":"quantitative","scale":null},"text":{"field":"name"}}}
]},
{"data":{"values":[{"set":"BLCA","v":100},{"set":"BLCA","v":0},{"set":"ESCA","v":100},{"set":"ESCA","v":0},{"set":"HNSC","v":100},{"set":"HNSC","v":0},{"set":"PRAD","v":100},{"set":"PRAD","v":0},{"set":"COAD","v":100},{"set":"COAD","v":0},{"set":"PAAD","v":100},{"set":"PAAD","v":0},{"set":"STAD","v":100},{"set":"STAD","v":0}]},
 "mark":{"type":"line","color":"#4fa8e4","strokeWidth":10},
 "encoding":{"x":{"field":"v","type":"quantitative","scale":{"domain":[105,-4.84],"range":[125,670],"nice":false,"zero":false},"axis":{"orient":"bottom","offset":-37,"values":[100,75,50,25,0],"title":"Set Size","titleFont":"DejaVu Sans","titleFontWeight":"bold","titleFontSize":13,"titleColor":"#222222","titlePadding":2,"labelFont":"DejaVu Sans","labelFontSize":12,"labelColor":"#666666","labelPadding":2,"tickColor":"#333333","tickSize":4,"tickWidth":2,"domainColor":"#333333","domainWidth":1.5,"grid":false}},
 "y":{"field":"set","type":"nominal","axis":null,"scale":{"type":"point","domain":["BLCA","ESCA","HNSC","PRAD","COAD","PAAD","STAD"],"range":[1162.7,1298.3],"padding":0}},
 "detail":{"field":"set"},
 "yOffset":{"field":"v","type":"quantitative","scale":{"domain":[100,0],"range":[0,-6],"zero":false}}}},
{"data":{"name":"intersections"},"mark":{"type":"point","opacity":0},
 "encoding":{"x":{"field":"col","type":"quantitative","axis":null,"scale":{"domain":[1,64],"range":[776,1745],"nice":false,"zero":false}},
 "y":{"field":"size","type":"quantitative","scale":{"domain":[-1.7,70.5],"range":[1143,737],"nice":false,"zero":false},"axis":{"orient":"left","offset":-759,"values":[0,20,40,60],"title":"Intersection Size","titleFont":"Liberation Sans","titleFontSize":13,"titleFontWeight":"normal","titleColor":"#222222","titleX":-89,"titleY":923,"labelFont":"DejaVu Sans","labelFontSize":12.5,"labelColor":"#666666","tickColor":"#333333","tickSize":4,"domainColor":"#555555","domainWidth":2,"grid":false}}}},
{"data":{"values":[{"set":"BLCA"},{"set":"ESCA"},{"set":"HNSC"},{"set":"PRAD"},{"set":"COAD"},{"set":"PAAD"},{"set":"STAD"}]},"mark":{"type":"point","opacity":0},
 "encoding":{"x":{"datum":1,"type":"quantitative","axis":null,"scale":{"domain":[1,64],"range":[776,1745],"nice":false,"zero":false}},
 "y":{"field":"set","type":"nominal","scale":{"type":"point","domain":["BLCA","ESCA","HNSC","PRAD","COAD","PAAD","STAD"],"range":[1153,1290],"padding":0},"axis":{"orient":"left","offset":-765,"title":null,"domain":false,"ticks":false,"labelAlign":"center","labelPadding":42,"labelFont":"DejaVu Sans","labelFontWeight":"bold","labelFontSize":14,"labelColor":"#444444"}}}},
{"data":{"name":"intersections"},"layer":[
{"mark":{"type":"bar","color":"#333333","size":9,"orient":"vertical","yOffset":{"expr":"-(datum.col-1)*0.19"},"y2Offset":{"expr":"-(datum.col-1)*0.19"}},
 "encoding":{"x":{"field":"col","type":"quantitative","axis":null,"scale":{"domain":[1,64],"range":[776,1745],"nice":false,"zero":false,"padding":0}},
 "y":{"field":"size","type":"quantitative","axis":null,"scale":{"domain":[-1.7,70.5],"range":[1143,737],"nice":false,"zero":false}}}},
{"mark":{"type":"text","font":"DejaVu Sans","fontSize":11,"color":"#555555","align":"center","baseline":"bottom","dy":-3,"yOffset":{"expr":"-(datum.col-1)*0.19"}},
 "encoding":{"x":{"field":"col","type":"quantitative","axis":null},"y":{"field":"size","type":"quantitative","axis":null},"text":{"field":"size"}}},
{"data":{"values":[{"col":0.1},{"col":64.8}]},"mark":{"type":"line","color":"#222222","strokeWidth":2,"yOffset":{"expr":"-(datum.col-1)*0.19"}},
 "encoding":{"x":{"field":"col","type":"quantitative","axis":null,"scale":{"domain":[1,64],"range":[776,1745],"nice":false,"zero":false,"padding":0}},"y":{"datum":0,"type":"quantitative","axis":null}}},
{"data":{"values":[{"col":9,"top":20.4,"low":15.5}]},"mark":{"type":"rule","color":"#ee1111","strokeWidth":6.5},
 "encoding":{"x":{"field":"col","type":"quantitative","axis":null},"y":{"field":"top","type":"quantitative","axis":null},"y2":{"field":"low"}}},
{"data":{"values":[{"col":9,"tip":15}]},"mark":{"type":"point","shape":"triangle-down","filled":true,"opacity":1,"color":"#ee1111","size":130},
 "encoding":{"x":{"field":"col","type":"quantitative","axis":null},"y":{"field":"tip","type":"quantitative","axis":null}}}
]},
{"layer":[
{"data":{"values":[{"set":"BLCA","col":0.15},{"set":"BLCA","col":64.8},{"set":"HNSC","col":0.15},{"set":"HNSC","col":64.8},{"set":"COAD","col":0.15},{"set":"COAD","col":64.8},{"set":"STAD","col":0.15},{"set":"STAD","col":64.8}]},
 "mark":{"type":"line","color":"#f3f3f3","strokeWidth":23},
 "encoding":{"x":{"field":"col","type":"quantitative","axis":null,"scale":{"domain":[1,64],"range":[776,1745],"nice":false,"zero":false}},
 "y":{"field":"set","type":"nominal","axis":null,"scale":{"type":"point","domain":["BLCA","ESCA","HNSC","PRAD","COAD","PAAD","STAD"],"range":[1153,1290],"padding":0}},
 "detail":{"field":"set"},
 "yOffset":{"field":"col","type":"quantitative","scale":{"domain":[1,64],"range":[0,-12],"zero":false}}}},
{"data":{"name":"intersections"},"transform":[{"fold":["BLCA","ESCA","HNSC","PRAD","COAD","PAAD","STAD"],"as":["set","member"]}],
 "mark":{"type":"point","shape":"M-1,0A1,0.65,0,1,1,1,0A1,0.65,0,1,1,-1,0Z","filled":true,"opacity":1,"size":256,"color":"#e2e2e2"},
 "encoding":{"x":{"field":"col","type":"quantitative","axis":null,"scale":{"domain":[1,64],"range":[776,1745],"nice":false,"zero":false}},"y":{"field":"set","type":"nominal","axis":null,"scale":{"type":"point","domain":["BLCA","ESCA","HNSC","PRAD","COAD","PAAD","STAD"],"range":[1153,1290],"padding":0}},"yOffset":{"field":"col","type":"quantitative","scale":{"domain":[1,64],"range":[0,-12],"zero":false}}}},
{"data":{"name":"intersections"},"transform":[{"fold":["BLCA","ESCA","HNSC","PRAD","COAD","PAAD","STAD"],"as":["set","member"]},{"filter":"datum.member === 1"}],
 "mark":{"type":"line","color":"#333333","strokeWidth":3.5},
 "encoding":{"x":{"field":"col","type":"quantitative","axis":null,"scale":{"domain":[1,64],"range":[776,1745],"nice":false,"zero":false}},"y":{"field":"set","type":"nominal","axis":null,"scale":{"type":"point","domain":["BLCA","ESCA","HNSC","PRAD","COAD","PAAD","STAD"],"range":[1153,1290],"padding":0}},"detail":{"field":"col"},"yOffset":{"field":"col","type":"quantitative","scale":{"domain":[1,64],"range":[0,-12],"zero":false}}}},
{"data":{"name":"intersections"},"transform":[{"fold":["BLCA","ESCA","HNSC","PRAD","COAD","PAAD","STAD"],"as":["set","member"]},{"filter":"datum.member === 1"}],
 "mark":{"type":"point","shape":"M-1,0A1,0.65,0,1,1,1,0A1,0.65,0,1,1,-1,0Z","filled":true,"opacity":1,"size":256,"color":"#333333"},
 "encoding":{"x":{"field":"col","type":"quantitative","axis":null,"scale":{"domain":[1,64],"range":[776,1745],"nice":false,"zero":false}},"y":{"field":"set","type":"nominal","axis":null,"scale":{"type":"point","domain":["BLCA","ESCA","HNSC","PRAD","COAD","PAAD","STAD"],"range":[1153,1290],"padding":0}},"yOffset":{"field":"col","type":"quantitative","scale":{"domain":[1,64],"range":[0,-12],"zero":false}}}}
]}
]}
